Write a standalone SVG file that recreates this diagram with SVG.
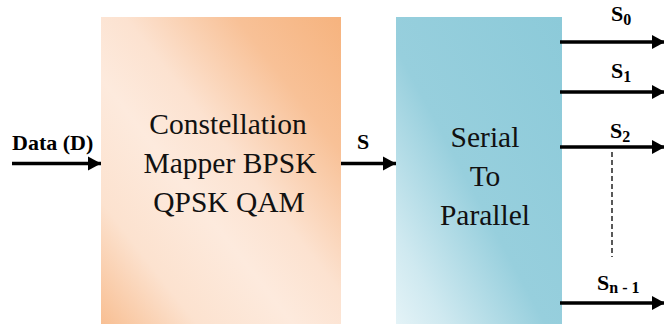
<svg xmlns="http://www.w3.org/2000/svg" width="664" height="330" viewBox="0 0 664 330">
  <defs>
    <linearGradient id="gradMapper" x1="1" y1="0" x2="0" y2="1">
      <stop offset="0" stop-color="#f6b37e"/>
      <stop offset="0.22" stop-color="#f8c197"/>
      <stop offset="0.45" stop-color="#fce2d0"/>
      <stop offset="0.6" stop-color="#fdeadd"/>
      <stop offset="0.8" stop-color="#fce2cf"/>
      <stop offset="1" stop-color="#f8bf93"/>
    </linearGradient>
    <linearGradient id="gradS2P" x1="0" y1="1" x2="1" y2="0">
      <stop offset="0" stop-color="#e4f3f7"/>
      <stop offset="0.15" stop-color="#cfe9f0"/>
      <stop offset="0.45" stop-color="#97cfdd"/>
      <stop offset="1" stop-color="#8ccad9"/>
    </linearGradient>
    <marker id="arrow" markerUnits="userSpaceOnUse" markerWidth="14" markerHeight="16" refX="13" refY="8" orient="auto">
      <path d="M0,1 L13,8 L0,15 Z" fill="#000"/>
    </marker>
    <style>
      .wire { stroke: #000; stroke-width: 3.5; fill: none; marker-end: url(#arrow); }
      .dots { stroke: #000; stroke-width: 1.3; stroke-dasharray: 5 3; fill: none; }
    </style>
  </defs>

  <rect width="664" height="330" fill="#fff"/>

  <!-- constellation mapper block -->
  <g id="mapper">
    <rect x="101" y="17" width="240" height="307" fill="url(#gradMapper)"/>
    <g font-family="Liberation Serif" font-size="29.5" fill="#111" text-anchor="middle">
      <text x="228" y="134">Constellation</text>
      <text x="230" y="173">Mapper BPSK</text>
      <text x="229" y="212">QPSK QAM</text>
    </g>
  </g>

  <!-- serial to parallel block -->
  <g id="s2p">
    <rect x="396" y="17" width="166" height="307" fill="url(#gradS2P)"/>
    <g font-family="Liberation Serif" font-size="29.5" fill="#111" text-anchor="middle">
      <text x="485" y="147">Serial</text>
      <text x="485" y="186">To</text>
      <text x="485" y="225">Parallel</text>
    </g>
  </g>

  <!-- connectors -->
  <g id="connectors">
    <line class="wire" x1="12" y1="163.5" x2="101" y2="163.5"/>
    <line class="wire" x1="341" y1="163.5" x2="396" y2="163.5"/>
    <line class="wire" x1="560" y1="42" x2="665" y2="42"/>
    <line class="wire" x1="560" y1="92" x2="665" y2="92"/>
    <line class="wire" x1="560" y1="147" x2="665" y2="147"/>
    <line class="wire" x1="560" y1="303" x2="665" y2="303"/>
    <line class="dots" x1="612" y1="152" x2="612" y2="257"/>
  </g>

  <!-- signal labels -->
  <g id="labels" font-family="Liberation Serif" font-weight="bold" font-size="22" fill="#000">
    <text x="12" y="150">Data (D)</text>
    <text x="357" y="149">S</text>
    <text x="611" y="21">S<tspan font-size="16" dy="4">0</tspan></text>
    <text x="611" y="78">S<tspan font-size="16" dy="4">1</tspan></text>
    <text x="610" y="138">S<tspan font-size="16" dy="4">2</tspan></text>
    <text x="597" y="290">S<tspan font-size="16" dy="3">n - 1</tspan></text>
  </g>
</svg>
